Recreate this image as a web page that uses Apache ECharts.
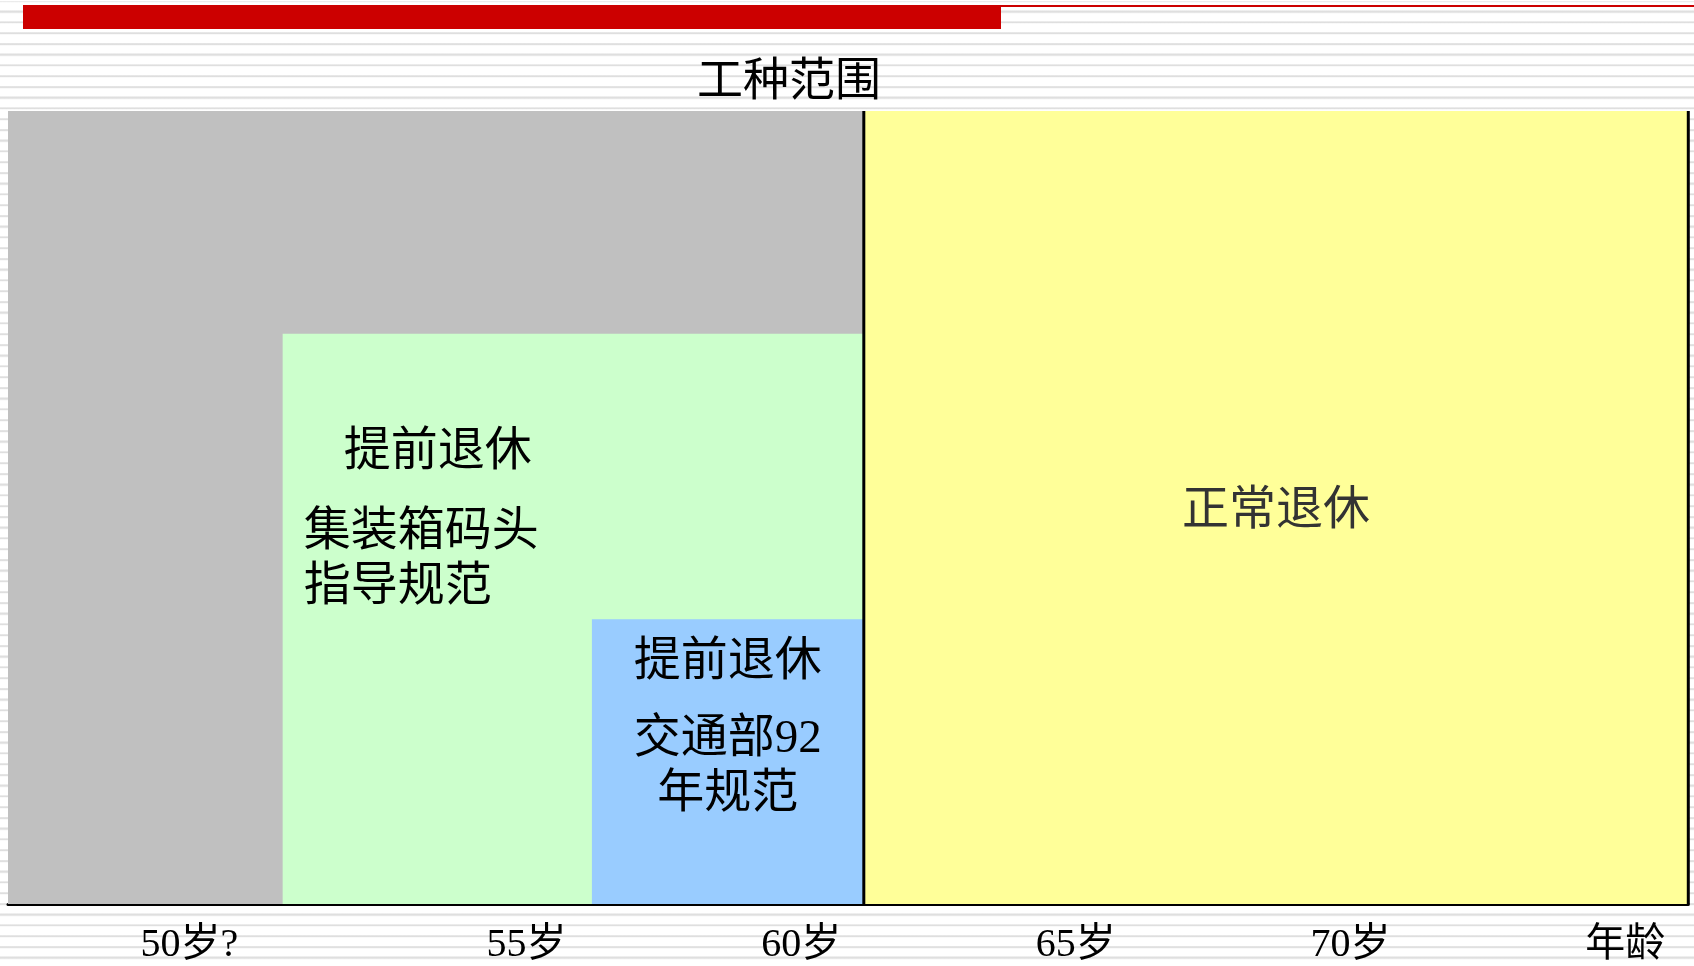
<!DOCTYPE html>
<html>
<head>
<meta charset="utf-8">
<script src="https://cdn.jsdelivr.net/npm/echarts@6.0.0/dist/echarts.min.js"></script>
<style>
  html, body { margin: 0; padding: 0; }
  body {
    width: 1694px; height: 966px; overflow: hidden;
    background-color: #ffffff;
    background-image: repeating-linear-gradient(to bottom,
      #ffffff 0px, #ffffff 8.4px, #ececec 8.4px, #dcdcdc 9.4px, #dedede 10.2px, #f2f2f2 10.75px);
    background-position: 0 2.2px;
  }
  #main { width: 1694px; height: 966px; }
</style>
</head>
<body>
<div id="main"></div>
<script>
// ---------- data ----------
const title = '工种范围';
const tickAges = [48.86, 55, 60, 65, 70, 75];
const tickLabels = ['50岁?', '55岁', '60岁', '65岁', '70岁', '年龄'];
const ageMin = 45.56;
const ageMax = 76.15;
const regionNames = ['其他工种', '集装箱码头指导规范', '交通部92年规范', '正常退休'];
const regionStartAge = [45.56, 50.56, 56.19, 61.14];
const regionEndAge = [61.14, 61.14, 61.14, 76.15];
const regionHeight = [100, 71.9, 35.9, 100];
const regionLines = [
  [],
  ['提前退休', '集装箱码头', '指导规范'],
  ['提前退休', '交通部92', '年规范'],
  ['正常退休']
];
const dividerAges = [61.14, 76.15];

// ---------- styles ----------
const FONT = "'Liberation Serif', 'Noto Sans CJK SC', serif";
const regionColors = ['#c0c0c0', '#ccffcc', '#99ccff', '#ffff99'];
const regionTextColors = ['#000', '#000', '#000', '#333'];
// text layout per region (pixel offsets from region's top-left)
const regionTextLayout = [
  null,
  { align: 'left', pos: [[61, 119], [21, 199], [21, 254]] },
  { align: 'center', pos: [[0, 43], [0, 120], [0, 175]] },
  { align: 'center', middle: true, dy: 4 }
];

const regionData = regionStartAge.map((s, i) => [s, regionEndAge[i], regionHeight[i], i]);

const chart = echarts.init(document.getElementById('main'), null, { renderer: 'canvas' });

chart.setOption({
  backgroundColor: 'transparent',
  animation: false,
  title: {
    text: title,
    left: 784,
    top: 55,
    textAlign: 'center',
    textStyle: { fontSize: 46, fontWeight: 'normal', color: '#000', fontFamily: FONT }
  },
  grid: { left: 8, top: 111, width: 1680.3, height: 793 },
  xAxis: {
    type: 'value',
    min: ageMin,
    max: ageMax,
    axisLine: { show: true, lineStyle: { color: '#000', width: 3 } },
    axisTick: { show: false },
    splitLine: { show: false },
    axisLabel: {
      customValues: tickAges,
      margin: 21,
      fontSize: 40,
      lineHeight: 40,
      color: '#000',
      fontFamily: FONT,
      formatter: function (v) {
        for (let i = 0; i < tickAges.length; i++) {
          if (Math.abs(tickAges[i] - v) < 1e-6) return tickLabels[i];
        }
        return '';
      }
    }
  },
  yAxis: { type: 'value', min: 0, max: 100, show: false },
  graphic: [
    { type: 'rect', shape: { x: 23, y: 5, width: 978, height: 24 }, style: { fill: '#cc0000' } },
    { type: 'rect', shape: { x: 1001, y: 5, width: 693, height: 2 }, style: { fill: '#cc0000' } }
  ],
  series: [
    {
      type: 'custom',
      name: '区域',
      data: regionData,
      renderItem: function (params, api) {
        const idx = api.value(3);
        const p0 = api.coord([api.value(0), api.value(2)]);
        const p1 = api.coord([api.value(1), 0]);
        const x = p0[0], y = p0[1], w = p1[0] - p0[0], h = p1[1] - p0[1];
        const children = [{
          type: 'rect',
          shape: { x: x, y: y, width: w, height: h },
          style: { fill: regionColors[idx] }
        }];
        const layout = regionTextLayout[idx];
        const lines = regionLines[idx];
        if (layout && lines.length) {
          lines.forEach(function (t, k) {
            let tx, ty;
            if (layout.middle) {
              tx = x + w / 2; ty = y + h / 2 + (layout.dy || 0);
            } else if (layout.align === 'center') {
              tx = x + w / 2; ty = y + layout.pos[k][1];
            } else {
              tx = x + layout.pos[k][0]; ty = y + layout.pos[k][1];
            }
            children.push({
              type: 'text',
              style: {
                text: t, x: tx, y: ty,
                align: layout.align, verticalAlign: 'middle',
                fontSize: 47, fontFamily: FONT, fill: regionTextColors[idx]
              }
            });
          });
        }
        return { type: 'group', children: children };
      },
      z: 1
    },
    {
      type: 'custom',
      name: '分界线',
      data: dividerAges.map(a => [a]),
      renderItem: function (params, api) {
        const a = api.value(0);
        const top = api.coord([a, 100]);
        const bot = api.coord([a, 0]);
        return {
          type: 'line',
          shape: { x1: top[0], y1: top[1], x2: bot[0], y2: bot[1] },
          style: { stroke: '#000', lineWidth: 3 }
        };
      },
      z: 2
    }
  ]
});
</script>
</body>
</html>
